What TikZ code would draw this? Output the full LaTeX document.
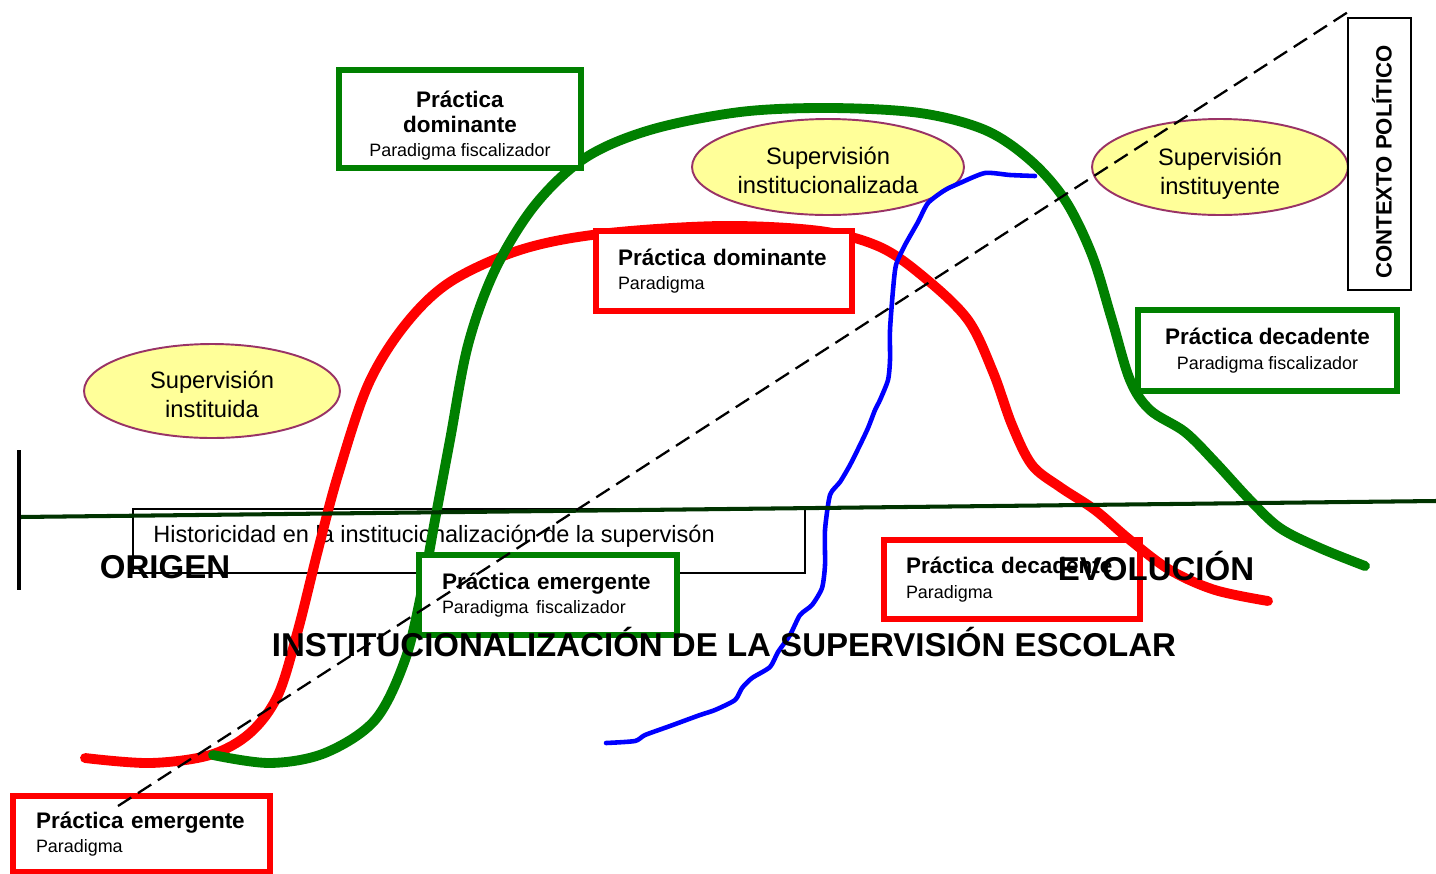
\documentclass[tikz,border=0pt]{standalone}
\usepackage{fontspec}
\setmainfont{Liberation Sans}
\usetikzlibrary{shapes.geometric}

\definecolor{boxgreen}{RGB}{0,128,0}
\definecolor{axisgreen}{RGB}{0,51,0}
\definecolor{ellfill}{RGB}{255,255,153}
\definecolor{elldraw}{RGB}{153,51,102}

\newcommand{\subline}[1]{{\fontsize{10.2pt}{14pt}\selectfont\mdseries #1}}

\begin{document}
\begin{tikzpicture}[x=0.02cm, y=-0.02cm,
    curve/.style={line width=5.6pt, line cap=round, line join=round},
    ell/.style={ellipse, draw=elldraw, line width=1.1pt, fill=ellfill, inner sep=0pt, align=center, font=\fontsize{13.5pt}{16.5pt}\selectfont},
    pbox/.style={rectangle, line width=2.9pt, fill=white, inner sep=0pt, font=\fontsize{12.8pt}{14pt}\selectfont\bfseries},
    gbox/.style={pbox, draw=boxgreen},
    rbox/.style={pbox, draw=red},
    bigtext/.style={inner sep=0pt, font=\fontsize{18.8pt}{20pt}\selectfont\bfseries}]

\useasboundingbox (0,0) rectangle (1436,873);

% Supervision ellipses
\node[ell, minimum width=5.12cm, minimum height=1.88cm] (instituida) at (212,391) {\rule{0pt}{14pt}Supervisión\\instituida};
\node[ell, minimum width=5.44cm, minimum height=1.92cm] (institucionalizada) at (828,167) {\rule{0pt}{14pt}Supervisión\\institucionalizada};
\node[ell, minimum width=5.12cm, minimum height=1.92cm] (instituyente) at (1220,167) {\rule{0pt}{17.5pt}Supervisión\\instituyente};

% Historicity frame
\draw[black, line width=0.6pt] (133,509) rectangle (805,573);
\node[anchor=west, inner sep=0pt, font=\fontsize{13.4pt}{14pt}\selectfont] (historicidad) at (153,536) {Historicidad en la institucionalización de la supervisón};

% Red boxes under the curves
\node[rbox, fill=none, minimum width=5.12cm, minimum height=1.58cm, text width=4.24cm, align=left] (rDec) at (1012,579.5) {Práctica decadente\\\subline{Paradigma}};
\node[rbox, minimum width=5.14cm, minimum height=1.52cm, text width=4.22cm, align=left] (rEme) at (141.5,834) {Práctica emergente\\\subline{Paradigma}};

% Red curve
\draw[curve, red] plot[smooth, tension=0.55] coordinates {(85,758) (150,763) (210,755) (250,733) (278,695) (298,630) (318,550) (338,475) (368,385) (405,325) (450,282) (520,250) (600,234) (720,226) (820,231) (880,247) (925,278) (968,320) (993,372) (1012,425) (1032,465) (1060,487) (1095,510) (1130,540) (1170,570) (1215,590) (1268,601)};

% Green curve
\draw[curve, boxgreen] plot[smooth, tension=0.55] coordinates {(213,755) (270,763) (325,753) (375,720) (405,660) (422,590) (435,520) (450,440) (468,345) (495,270) (535,205) (585,158) (650,130) (740,112) (830,108) (920,113) (985,130) (1030,160) (1065,200) (1092,255) (1112,320) (1130,380) (1150,410) (1185,432) (1215,462) (1250,500) (1280,528) (1320,548) (1365,566)};

% Blue curve
\draw[blue, line width=2.6pt, line cap=round, line join=round] plot[smooth, tension=0.4] coordinates {(606,743) (635,741) (645,735) (670,726) (700,715) (715,710) (735,700) (742,688) (752,678) (770,667) (778,652) (790,635) (800,615) (812,605) (822,588) (825,565) (825,530) (830,495) (840,482) (850,465) (860,445) (868,428) (875,410) (880,400) (888,380) (890,360) (890,330) (893,290) (896,265) (905,245) (918,222) (928,203) (945,190) (960,183) (985,173) (1010,175) (1035,176)};

% Time axis
\coordinate (axisL) at (19,517);
\coordinate (axisR) at (1436,501);
\draw[axisgreen, line width=2.3pt] (axisL) -- (axisR);
\draw[black, line width=2.3pt] (19,450) -- (19,590);

% Green and red boxes on top
\node[gbox, minimum width=4.84cm, minimum height=1.96cm, align=center] (gDom) at (460,119) {\rule{0pt}{17pt}Práctica\\dominante\\\subline{Paradigma fiscalizador}};
\node[rbox, minimum width=5.12cm, minimum height=1.6cm, text width=4.24cm, align=left] (rDom) at (724,271) {Práctica dominante\\\subline{Paradigma}};
\node[gbox, minimum width=5.16cm, minimum height=1.6cm, text width=4.24cm, align=left] (gEme) at (548,595) {Práctica emergente\\\subline{Paradigma fiscalizador}};
\node[gbox, minimum width=5.18cm, minimum height=1.62cm, align=center] (gDec) at (1267.5,350.5) {Práctica decadente\\\subline{Paradigma fiscalizador}};

% Axis labels
\node[bigtext] (origen) at (165,567) {ORIGEN};
\node[bigtext] (evolucion) at (1156,566) {EVOLUCIÓN};
\node[bigtext] (titulo) at (724,642) {INSTITUCIONALIZACIÓN DE LA SUPERVISIÓN ESCOLAR};

% Trend line
\draw[black, line width=1.3pt, dash pattern=on 9pt off 4.5pt] (118,806) -- (1348,12);

% Political context
\node[draw=black, line width=1.2pt, minimum width=1.26cm, minimum height=5.44cm, inner sep=0pt] (contextoBox) at (1379.5,154) {};
\node[rotate=90, inner sep=0pt, font=\fontsize{12.6pt}{14pt}\selectfont\bfseries] (contexto) at (1382,162) {CONTEXTO POLÍTICO};
\end{tikzpicture}
\end{document}
